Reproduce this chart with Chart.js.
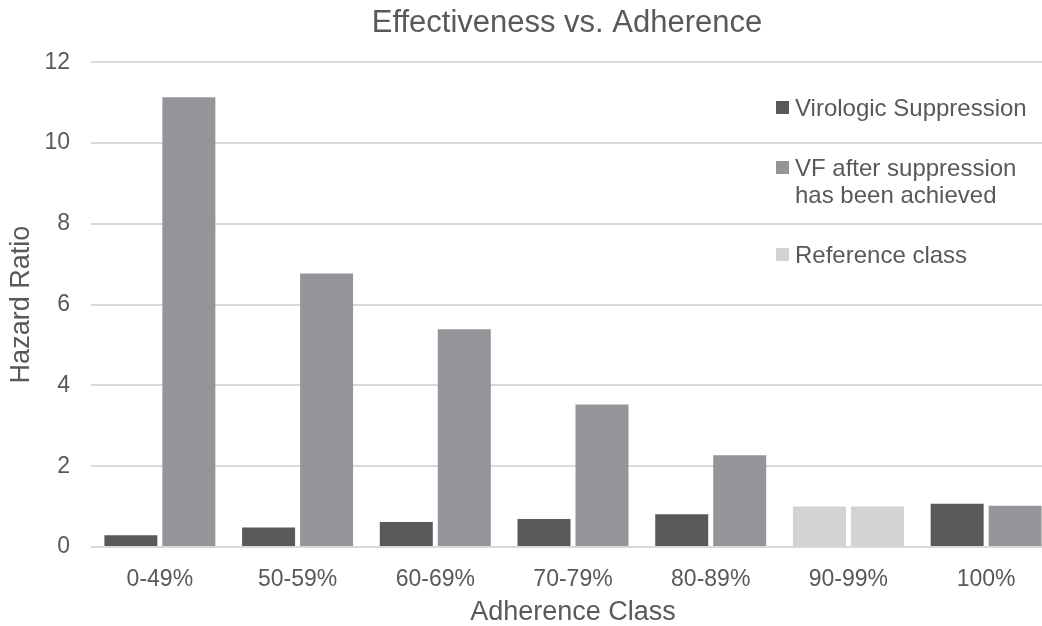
<!DOCTYPE html>
<html>
<head>
<meta charset="utf-8">
<title>Effectiveness vs. Adherence</title>
<script src="https://cdn.jsdelivr.net/npm/chart.js@4/dist/chart.umd.min.js"></script>
<style>
    html, body { margin: 0; padding: 0; background: #fff; overflow: hidden; }
    #wrap { position: relative; width: 1056px; height: 626px; }
</style>
</head>
<body>
<div id="wrap"><canvas id="adherenceChart"></canvas></div>
<script>
// Hazard ratios by adherence class
const categories = ['0-49%', '50-59%', '60-69%', '70-79%', '80-89%', '90-99%', '100%'];
const suppression = [0.29, 0.48, 0.62, 0.69, 0.81, 1.0, 1.07];
const vfAfter = [11.13, 6.77, 5.39, 3.53, 2.27, 1.0, 1.02];
const referenceIndex = 5; // 90-99% is the reference class
const yTicks = [0, 2, 4, 6, 8, 10, 12];

const DARK = '#58595b';
const MID = '#939598';
const LIGHT = '#d1d3d4';
const TEXT = '#595959';
const FONT = '"Liberation Sans", Arial, sans-serif';

const legendItems = [
    { color: DARK, lines: ['Virologic Suppression'], y: 108 },
    { color: MID, lines: ['VF after suppression', 'has been achieved'], y: 168 },
    { color: LIGHT, lines: ['Reference class'], y: 255 }
];

function barColors(base) {
    return categories.map((c, i) => i === referenceIndex ? LIGHT : base);
}

// center the title over the visible part of the plot area
const titleOverPlot = {
    id: 'titleOverPlot',
    afterLayout(chart) {
        if (chart.titleBlock) {
            chart.titleBlock.left = chart.chartArea.left;
            chart.titleBlock.right = chart.chartArea.right - 12;
        }
    }
};

// legend sits inside the plot, top right, with a two-line entry
const plotLegend = {
    id: 'plotLegend',
    afterDraw(chart) {
        const ctx = chart.ctx;
        const x = 776;
        ctx.save();
        ctx.font = '24px ' + FONT;
        ctx.textBaseline = 'middle';
        legendItems.forEach(item => {
            ctx.fillStyle = item.color;
            ctx.fillRect(x, item.y - 7, 13, 13);
            ctx.fillStyle = TEXT;
            item.lines.forEach((line, k) => {
                ctx.fillText(line, x + 19, item.y + 1 + k * 27);
            });
        });
        ctx.restore();
    }
};

new Chart(document.getElementById('adherenceChart'), {
    type: 'bar',
    data: {
        labels: categories,
        datasets: [
            {
                label: 'Virologic Suppression',
                data: suppression,
                backgroundColor: barColors(DARK)
            },
            {
                label: 'VF after suppression has been achieved',
                data: vfAfter,
                backgroundColor: barColors(MID)
            }
        ]
    },
    options: {
        responsive: true,
        maintainAspectRatio: false,
        animation: false,
        layout: { padding: { right: 1 } },
        datasets: {
            bar: { categoryPercentage: 0.842, barPercentage: 0.914 }
        },
        plugins: {
            legend: { display: false },
            tooltip: { enabled: false },
            title: {
                display: true,
                text: 'Effectiveness vs. Adherence',
                color: TEXT,
                font: { family: FONT, size: 31, weight: 'normal' },
                padding: { top: 5, bottom: 20 }
            }
        },
        scales: {
            x: {
                grid: { display: false },
                border: { display: false },
                ticks: {
                    color: TEXT,
                    padding: 11,
                    font: { family: FONT, size: 23 }
                },
                title: {
                    display: true,
                    text: 'Adherence Class',
                    color: TEXT,
                    font: { family: FONT, size: 27 },
                    padding: { top: 0, bottom: -3 }
                },
                afterFit: s => { s.height = 79; }
            },
            y: {
                min: 0,
                max: 12,
                afterBuildTicks: s => { s.ticks = yTicks.map(v => ({ value: v })); },
                grid: { color: '#d9d9d9', lineWidth: 2, drawTicks: false },
                border: { display: false },
                ticks: {
                    color: TEXT,
                    padding: 21,
                    font: { family: FONT, size: 23 }
                },
                title: {
                    display: true,
                    text: 'Hazard Ratio',
                    color: TEXT,
                    font: { family: FONT, size: 27 },
                    padding: { top: 5, bottom: 0 }
                },
                afterFit: s => { s.width = 91; }
            }
        }
    },
    plugins: [titleOverPlot, plotLegend]
});
</script>
</body>
</html>
